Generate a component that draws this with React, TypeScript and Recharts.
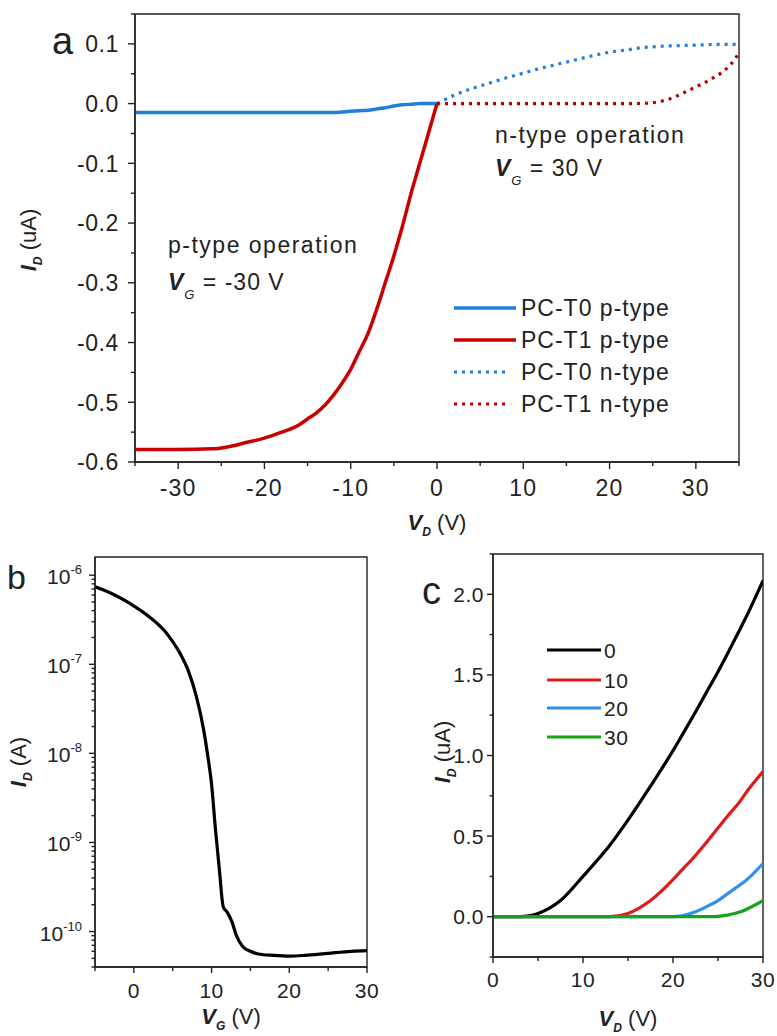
import React from 'react';
import { LineChart, Line, XAxis, YAxis, ReferenceArea } from 'recharts';

const FONT = '"Liberation Sans", Arial, sans-serif';
const INK = '#222';

// ---------- Panel a ----------
const vdP = [-35, -30, -26, -24, -22, -20, -18, -16, -15, -14, -13, -12, -11, -10, -9, -8, -7, -6, -5, -4, -3, -2, -1, 0];
const t0P = [-0.015, -0.015, -0.015, -0.015, -0.015, -0.015, -0.015, -0.015, -0.015, -0.015, -0.015, -0.015, -0.014, -0.013, -0.012, -0.011, -0.009, -0.007, -0.004, -0.002, -0.001, 0, 0, 0];
const t1P = [-0.579, -0.579, -0.578, -0.574, -0.567, -0.56, -0.55, -0.538, -0.528, -0.518, -0.505, -0.488, -0.468, -0.445, -0.415, -0.385, -0.345, -0.3, -0.255, -0.205, -0.15, -0.1, -0.05, 0];
const vdN = [0, 2, 4, 6, 8, 10, 12, 14, 16, 18, 20, 22, 24, 25, 26, 27, 28, 29, 30, 31, 32, 33, 34, 35];
const t0N = [0, 0.014, 0.025, 0.034, 0.043, 0.051, 0.059, 0.066, 0.073, 0.08, 0.086, 0.09, 0.094, 0.095, 0.096, 0.0965, 0.097, 0.0975, 0.098, 0.0985, 0.099, 0.099, 0.099, 0.099];
const t1N = [0, 0, 0, 0, 0, 0, 0, 0, 0, 0, 0, 0, 0.0005, 0.0015, 0.004, 0.008, 0.014, 0.021, 0.028, 0.035, 0.043, 0.052, 0.065, 0.085];
const aSeriesNames = ['PC-T0 p-type', 'PC-T1 p-type', 'PC-T0 n-type', 'PC-T1 n-type'];
const aXMajor = [-30, -20, -10, 0, 10, 20, 30];
const aXMinor = [-35, -25, -15, -5, 5, 15, 25, 35];
const aYMajor = [-0.6, -0.5, -0.4, -0.3, -0.2, -0.1, 0, 0.1];
const aYMinor = [-0.55, -0.45, -0.35, -0.25, -0.15, -0.05, 0.05, 0.15];

// ---------- Panel b ----------
const vgB = [-5, -3, -1, 0, 2, 4, 5, 6, 7, 8, 9, 9.5, 10, 10.5, 11, 11.5, 12, 12.6, 13.2, 14, 15, 16, 18, 20, 22, 25, 28, 30];
const idB = [7.4e-7, 6.3e-7, 5.1e-7, 4.5e-7, 3.4e-7, 2.35e-7, 1.8e-7, 1.3e-7, 8.5e-8, 4.5e-8, 1.8e-8, 9.5e-9, 4.5e-9, 1.4e-9, 5e-10, 1.9e-10, 1.65e-10, 1.3e-10, 9e-11, 6.8e-11, 6.0e-11, 5.6e-11, 5.4e-11, 5.3e-11, 5.4e-11, 5.7e-11, 6.0e-11, 6.1e-11];
const bXMajor = [0, 10, 20, 30];
const bXMinor = [-5, 5, 15, 25];
const bYMajor = [1e-10, 1e-9, 1e-8, 1e-7, 1e-6];
const bMinorMult = [2, 3, 4, 5, 6, 7, 8, 9];
const bYDomain = [4e-11, 1.6e-6];

// ---------- Panel c ----------
const vdC = [0, 2.5, 3, 4, 5, 7.5, 10, 12.5, 13, 15, 17.5, 20, 21, 22.5, 24, 25, 26, 27.5, 28, 30];
const c0 = [0, 0, 0, 0.005, 0.02, 0.1, 0.25, 0.41, 0.445, 0.6, 0.81, 1.03, 1.125, 1.27, 1.42, 1.52, 1.625, 1.79, 1.845, 2.085];
const c10 = [0, 0, 0, 0, 0, 0, 0, 0, 0, 0.02, 0.1, 0.23, 0.29, 0.38, 0.48, 0.55, 0.62, 0.72, 0.76, 0.9];
const c20 = [0, 0, 0, 0, 0, 0, 0, 0, 0, 0, 0, 0, 0.005, 0.03, 0.07, 0.1, 0.14, 0.2, 0.22, 0.33];
const c30 = [0, 0, 0, 0, 0, 0, 0, 0, 0, 0, 0, 0, 0, 0, 0, 0.002, 0.01, 0.03, 0.042, 0.1];
const cNames = ['0', '10', '20', '30'];
const cXMajor = [0, 10, 20, 30];
const cXMinor = [5, 15, 25];
const cYMajor = [0, 0.5, 1.0, 1.5, 2.0];
const cYMinor = [-0.25, 0.25, 0.75, 1.25, 1.75, 2.25];

const BLUE = '#1f7fe0';
const RED = '#c80000';
const cColors = ['#000000', '#e01b1b', '#2f8fef', '#17a317'];

const dataP = vdP.map((x, i) => ({ x, t0: t0P[i], t1: t1P[i] }));
const dataN = vdN.map((x, i) => ({ x, t0: t0N[i], t1: t1N[i] }));
const dataB = vgB.map((x, i) => ({ x, y: idB[i] }));
const dataC = vdC.map((x, i) => ({ x, s0: c0[i], s10: c10[i], s20: c20[i], s30: c30[i] }));

const bYMinor: number[] = [];
[1e-11, 1e-10, 1e-9, 1e-8, 1e-7, 1e-6].forEach((d) =>
  bMinorMult.forEach((m) => {
    const v = m * d;
    if (v >= bYDomain[0] && v <= bYDomain[1]) bYMinor.push(v);
  })
);

const isIn = (arr: number[], v: number) => arr.some((m) => Math.abs(m - v) <= Math.abs(m) * 1e-6 + 1e-12);

function XTick(props: any) {
  const { x, y, payload, majors, fs, gap, fmt, maj, min, ls = 0 } = props;
  const v = payload.value;
  const major = isIn(majors, v);
  return (
    <g>
      <line x1={x} x2={x} y1={y} y2={y + (major ? maj : min)} stroke={INK} strokeWidth={1.4} />
      {major && (
        <text x={x} y={y + gap} textAnchor="middle" fontSize={fs} letterSpacing={ls} fontFamily={FONT} fill={INK}>
          {fmt(v)}
        </text>
      )}
    </g>
  );
}

function YTick(props: any) {
  const { x, y, payload, majors, fs, gap, fmt, maj, min, log, ls = 0 } = props;
  const v = payload.value;
  const major = isIn(majors, v);
  let label: any = null;
  if (major) {
    if (log) {
      const e = Math.round(Math.log10(v));
      label = (
        <text x={x - gap} y={y + 9} textAnchor="end" fontSize={fs} fontFamily={FONT} fill={INK}>
          <tspan>10</tspan>
          <tspan dy={-10} fontSize={fs * 0.62}>{String(e)}</tspan>
        </text>
      );
    } else {
      label = (
        <text x={x - gap} y={y + fs * 0.36} textAnchor="end" fontSize={fs} letterSpacing={ls} fontFamily={FONT} fill={INK}>
          {fmt(v)}
        </text>
      );
    }
  }
  return (
    <g>
      <line x1={x} x2={x - (major ? maj : min)} y1={y} y2={y} stroke={INK} strokeWidth={1.4} />
      {label}
    </g>
  );
}

const fmtInt = (v: number) => String(Math.round(v));
const fmt1 = (v: number) => (Math.abs(v) < 1e-9 ? '0.0' : v.toFixed(1));

function AxisTitle({ x, y, main, sub, unit, rotate, fs = 22 }: any) {
  return (
    <text
      x={x}
      y={y}
      textAnchor="middle"
      fontFamily={FONT}
      fontSize={fs}
      fill={INK}
      transform={rotate ? `rotate(-90 ${x} ${y})` : undefined}
    >
      <tspan fontWeight="bold" fontStyle="italic">{main}</tspan>
      <tspan fontSize={fs * 0.55} fontStyle="italic" fontWeight="bold" dy={6}>{sub}</tspan>
      <tspan dy={-6}>{' ' + unit}</tspan>
    </text>
  );
}

export default function App() {
  return (
    <div style={{ position: 'absolute', left: 0, top: 0, width: 777, height: 1036, background: '#fff', overflow: 'hidden' }}>
      {/* Panel a */}
      <div style={{ position: 'absolute', left: 0, top: 0 }}>
        <LineChart width={777} height={545} margin={{ top: 14, right: 38, left: 0, bottom: 0 }}>
          <XAxis
            type="number"
            dataKey="x"
            domain={[-35, 35]}
            ticks={[...aXMajor, ...aXMinor].sort((p, q) => p - q)}
            interval={0}
            height={83}
            tickSize={0}
            tickMargin={0}
            tickLine={false}
            axisLine={{ stroke: INK, strokeWidth: 1.4 }}
            tick={(p: any) => <XTick {...p} majors={aXMajor} fs={23} ls={1.2} gap={34} fmt={fmtInt} maj={7} min={4} />}
            allowDataOverflow
          />
          <YAxis
            type="number"
            domain={[-0.6, 0.15]}
            ticks={[...aYMajor, ...aYMinor].sort((p, q) => p - q)}
            interval={0}
            width={135}
            tickSize={0}
            tickMargin={0}
            tickLine={false}
            axisLine={{ stroke: INK, strokeWidth: 1.4 }}
            tick={(p: any) => <YTick {...p} majors={aYMajor} fs={23} ls={0.6} gap={16} fmt={fmt1} maj={7} min={4} />}
            allowDataOverflow
          />
          <ReferenceArea x1={-35} x2={35} y1={-0.6} y2={0.15} fill="none" stroke={INK} strokeWidth={1.4} ifOverflow="visible" />
          <Line data={dataP} dataKey="t0" name={aSeriesNames[0]} type="monotone" stroke={BLUE} strokeWidth={3.5} dot={false} isAnimationActive={false} />
          <Line data={dataP} dataKey="t1" name={aSeriesNames[1]} type="monotone" stroke={RED} strokeWidth={3.5} dot={false} isAnimationActive={false} />
          <Line data={dataN} dataKey="t0" name={aSeriesNames[2]} type="monotone" stroke={BLUE} strokeWidth={3.2} strokeDasharray="3 5" dot={false} isAnimationActive={false} />
          <Line data={dataN} dataKey="t1" name={aSeriesNames[3]} type="monotone" stroke="#b80000" strokeWidth={3.2} strokeDasharray="3 5" dot={false} isAnimationActive={false} />
        </LineChart>
      </div>

      {/* Panel b */}
      <div style={{ position: 'absolute', left: 0, top: 540 }}>
        <LineChart width={380} height={496} data={dataB} margin={{ top: 17, right: 13, left: 0, bottom: 0 }}>
          <XAxis
            type="number"
            dataKey="x"
            domain={[-5, 30]}
            ticks={[...bXMajor, ...bXMinor].sort((p, q) => p - q)}
            interval={0}
            height={69}
            tickSize={0}
            tickMargin={0}
            tickLine={false}
            axisLine={{ stroke: INK, strokeWidth: 1.4 }}
            tick={(p: any) => <XTick {...p} majors={bXMajor} fs={21} ls={0.5} gap={31} fmt={fmtInt} maj={6} min={4} />}
            allowDataOverflow
          />
          <YAxis
            type="number"
            scale="log"
            domain={bYDomain}
            ticks={[...bYMajor, ...bYMinor].sort((p, q) => p - q)}
            interval={0}
            width={95}
            tickSize={0}
            tickMargin={0}
            tickLine={false}
            axisLine={{ stroke: INK, strokeWidth: 1.4 }}
            tick={(p: any) => <YTick {...p} majors={bYMajor} fs={21} gap={13} fmt={fmtInt} maj={6} min={3.5} log />}
            allowDataOverflow
          />
          <ReferenceArea x1={-5} x2={30} y1={bYDomain[0]} y2={bYDomain[1]} fill="none" stroke={INK} strokeWidth={1.4} ifOverflow="visible" />
          <Line dataKey="y" type="monotone" stroke="#000" strokeWidth={3.2} dot={false} isAnimationActive={false} />
        </LineChart>
      </div>

      {/* Panel c */}
      <div style={{ position: 'absolute', left: 400, top: 540 }}>
        <LineChart width={377} height={496} data={dataC} margin={{ top: 14, right: 14, left: 0, bottom: 0 }}>
          <XAxis
            type="number"
            dataKey="x"
            domain={[0, 30]}
            ticks={[...cXMajor, ...cXMinor].sort((p, q) => p - q)}
            interval={0}
            height={79}
            tickSize={0}
            tickMargin={0}
            tickLine={false}
            axisLine={{ stroke: INK, strokeWidth: 1.4 }}
            tick={(p: any) => <XTick {...p} majors={cXMajor} fs={21} ls={0.5} gap={30} fmt={fmtInt} maj={6} min={4} />}
            allowDataOverflow
          />
          <YAxis
            type="number"
            domain={[-0.25, 2.25]}
            ticks={[...cYMajor, ...cYMinor].sort((p, q) => p - q)}
            interval={0}
            width={93}
            tickSize={0}
            tickMargin={0}
            tickLine={false}
            axisLine={{ stroke: INK, strokeWidth: 1.4 }}
            tick={(p: any) => <YTick {...p} majors={cYMajor} fs={21} ls={0.5} gap={9} fmt={fmt1} maj={6} min={3.5} />}
            allowDataOverflow
          />
          <ReferenceArea x1={0} x2={30} y1={-0.25} y2={2.25} fill="none" stroke={INK} strokeWidth={1.4} ifOverflow="visible" />
          <Line dataKey="s0" name={cNames[0]} type="monotone" stroke={cColors[0]} strokeWidth={3.2} dot={false} isAnimationActive={false} />
          <Line dataKey="s10" name={cNames[1]} type="monotone" stroke={cColors[1]} strokeWidth={3.2} dot={false} isAnimationActive={false} />
          <Line dataKey="s20" name={cNames[2]} type="monotone" stroke={cColors[2]} strokeWidth={3.2} dot={false} isAnimationActive={false} />
          <Line dataKey="s30" name={cNames[3]} type="monotone" stroke={cColors[3]} strokeWidth={3.2} dot={false} isAnimationActive={false} />
        </LineChart>
      </div>

      {/* Overlay text */}
      <svg width={777} height={1036} style={{ position: 'absolute', left: 0, top: 0, pointerEvents: 'none' }}>
        {/* panel letters */}
        <text x={52} y={54} fontFamily={FONT} fontSize={38} fill={INK}>a</text>
        <text x={7} y={589} fontFamily={FONT} fontSize={34} fill={INK}>b</text>
        <text x={422} y={604} fontFamily={FONT} fontSize={38} fill={INK}>c</text>

        {/* panel a titles */}
        <AxisTitle x={437} y={530} main="V" sub="D" unit="(V)" />
        <AxisTitle x={36} y={240} main="I" sub="D" unit="(uA)" rotate />
        {/* panel b titles */}
        <AxisTitle x={231} y={1024} main="V" sub="G" unit="(V)" />
        <AxisTitle x={26} y={762} main="I" sub="D" unit="(A)" rotate />
        {/* panel c titles */}
        <AxisTitle x={628} y={1026} main="V" sub="D" unit="(V)" />
        <AxisTitle x={450} y={752} main="I" sub="D" unit="(uA)" rotate />

        {/* panel a annotations */}
        <text x={168} y={253} fontFamily={FONT} fontSize={23} letterSpacing={1.5} fill={INK}>p-type operation</text>
        <text x={168} y={290} fontFamily={FONT} fontSize={23} letterSpacing={1} fill={INK}>
          <tspan fontWeight="bold" fontStyle="italic">V</tspan>
          <tspan fontSize={13} fontStyle="italic" dy={9}>G</tspan>
          <tspan dy={-9}>{' = -30 V'}</tspan>
        </text>
        <text x={495} y={143} fontFamily={FONT} fontSize={23} letterSpacing={1.5} fill={INK}>n-type operation</text>
        <text x={495} y={176} fontFamily={FONT} fontSize={23} letterSpacing={1} fill={INK}>
          <tspan fontWeight="bold" fontStyle="italic">V</tspan>
          <tspan fontSize={13} fontStyle="italic" dy={9}>G</tspan>
          <tspan dy={-9}>{' = 30 V'}</tspan>
        </text>

        {/* panel a legend */}
        {aSeriesNames.map((n, i) => {
          const cy = 308 + i * 32;
          const col = i % 2 === 0 ? BLUE : RED;
          const dotted = i >= 2;
          return (
            <g key={n}>
              <line x1={454} x2={dotted ? 510 : 516} y1={cy} y2={cy} stroke={col} strokeWidth={dotted ? 3 : 3.5} strokeDasharray={dotted ? '3 5' : undefined} />
              <text x={521} y={cy + 8} fontFamily={FONT} fontSize={23} letterSpacing={1} fill={INK}>{n}</text>
            </g>
          );
        })}

        {/* panel c legend */}
        {cNames.map((n, i) => {
          const cy = [650, 680, 708, 737][i];
          return (
            <g key={n}>
              <line x1={547} x2={601} y1={cy} y2={cy} stroke={cColors[i]} strokeWidth={3.2} />
              <text x={604} y={cy + 8} fontFamily={FONT} fontSize={21} letterSpacing={0.5} fill={INK}>{n}</text>
            </g>
          );
        })}
      </svg>
    </div>
  );
}
